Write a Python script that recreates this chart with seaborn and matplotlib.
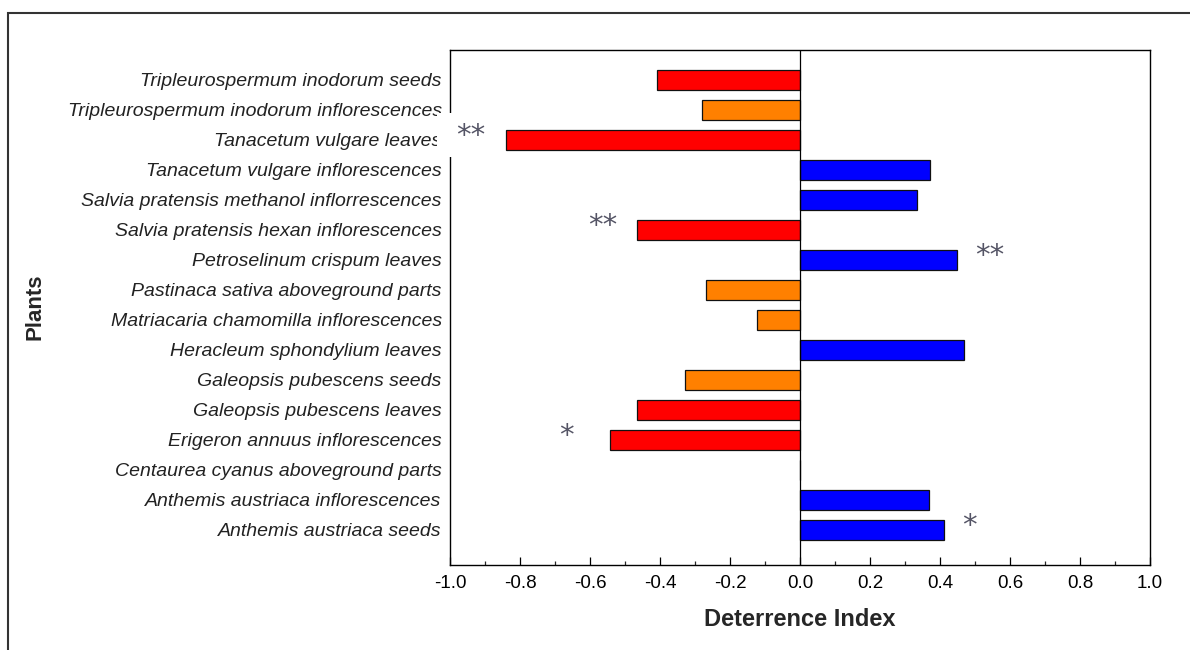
import matplotlib
matplotlib.use("Agg")
import matplotlib.pyplot as plt
from matplotlib.patches import Rectangle
from matplotlib.ticker import MultipleLocator
import seaborn as sns
import pandas as pd

plants = [
    "Tripleurospermum inodorum seeds",
    "Tripleurospermum inodorum inflorescences",
    "Tanacetum vulgare leaves",
    "Tanacetum vulgare inflorescences",
    "Salvia pratensis methanol inflorrescences",
    "Salvia pratensis hexan inflorescences",
    "Petroselinum crispum leaves",
    "Pastinaca sativa aboveground parts",
    "Matriacaria chamomilla inflorescences",
    "Heracleum sphondylium leaves",
    "Galeopsis pubescens seeds",
    "Galeopsis pubescens leaves",
    "Erigeron annuus inflorescences",
    "Centaurea cyanus aboveground parts",
    "Anthemis austriaca inflorescences",
    "Anthemis austriaca seeds",
]
values = [-0.41, -0.28, -0.84, 0.37, 0.335, -0.467, 0.449, -0.27, -0.123,
          0.469, -0.33, -0.466, -0.543, 0.0, 0.369, 0.411]
groups = ["red", "orange", "red", "blue", "blue", "red", "blue", "orange", "orange",
          "blue", "orange", "red", "red", "none", "blue", "blue"]
stars = ["", "", "**", "", "", "**", "**", "", "", "", "", "", "*", "", "", "*"]
star_x = [0, 0, -0.94, 0, 0, -0.565, 0.543, 0, 0, 0, 0, 0, -0.666, 0, 0, 0.483]
xticks = [-1.0, -0.8, -0.6, -0.4, -0.2, 0.0, 0.2, 0.4, 0.6, 0.8, 1.0]

palette = {"red": "#FF0000", "orange": "#FF8000", "blue": "#0000FF", "none": "#FFFFFF"}

df = pd.DataFrame({"plant": plants, "value": values, "group": groups})

sns.set_style("white")
plt.rcParams["font.family"] = ["Liberation Sans", "DejaVu Sans"]

fig = plt.figure(figsize=(11.9, 6.5), dpi=100)
ax = fig.add_axes([450 / 1190, 1 - 565 / 650, 700 / 1190, 515 / 650])

sns.barplot(data=df, x="value", y="plant", hue="group", palette=palette,
            dodge=False, width=0.65, edgecolor="#111111", linewidth=0.9,
            saturation=1, legend=False, ax=ax, orient="h")

ax.set_xlim(-1.0, 1.0)
ax.set_ylim(len(plants) - 1 + 1.17, -1.0)
ax.axvline(0, color="black", lw=0.9, zorder=1)

for s in ax.spines.values():
    s.set_color("black")
    s.set_linewidth(1.0)

ax.set_xticks(xticks)
ax.set_xticklabels([f"{t:.1f}" for t in xticks], fontsize=13.5)
ax.xaxis.set_minor_locator(MultipleLocator(0.1))
ax.tick_params(axis="x", which="major", direction="in", length=6, width=0.9,
               bottom=True, pad=7, colors="black")
ax.tick_params(axis="x", which="minor", direction="in", length=3, width=0.9, bottom=True)
ax.tick_params(axis="y", length=0, pad=6)
for lbl in ax.get_yticklabels():
    lbl.set_fontstyle("italic")
    lbl.set_fontsize(14)
    lbl.set_color("#222222")

ax.set_xlabel("")
ax.set_ylabel("")

# white patch covering the spine and label ends behind the "**"
ax.add_patch(Rectangle((-1.036, 1.1), 0.176, 1.47, facecolor="white",
                       edgecolor="none", zorder=4, clip_on=False))

for i, (s, sx) in enumerate(zip(stars, star_x)):
    if s:
        ax.text(sx, i - 0.12, s, ha="center", va="center", fontsize=21,
                color="#555566", zorder=5, clip_on=False, family="DejaVu Sans")

fig.text(800 / 1190, 1 - 620 / 650, "Deterrence Index", ha="center", va="center",
         fontsize=17, fontweight="bold")
fig.text(35 / 1190, 1 - 307 / 650, "Plants", ha="center", va="center",
         fontsize=16, fontweight="bold", rotation=90)

fig.patches.append(Rectangle((8 / 1190, -0.1), 1.2, 1.1 - 13 / 650,
                             transform=fig.transFigure, fill=False,
                             edgecolor="#333333", lw=1.5))

fig.savefig("out.png", dpi=100)
